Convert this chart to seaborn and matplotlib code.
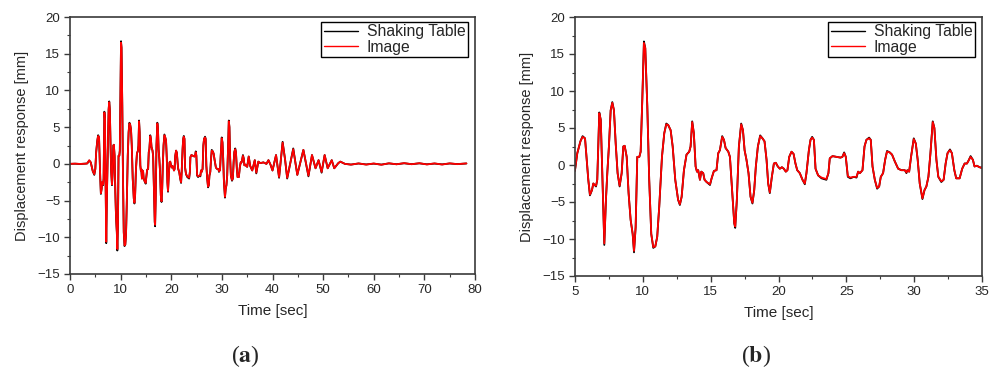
import numpy as np
import pandas as pd
import matplotlib
matplotlib.use("Agg")
import matplotlib.pyplot as plt
from matplotlib.ticker import MultipleLocator
import seaborn as sns

# ---------------- data ----------------
time_s = [0.0, 1.0, 2.0, 3.0, 3.4, 3.8, 4.1, 4.5, 4.8, 5.0,
          5.17, 5.4, 5.56, 5.74, 5.98, 6.1, 6.25, 6.35, 6.45, 6.55,
          6.64, 6.79, 6.9, 7.04, 7.16, 7.28, 7.38, 7.5, 7.63, 7.75,
          7.87, 8.0, 8.14, 8.29, 8.44, 8.56, 8.66, 8.81, 8.95, 9.1,
          9.25, 9.35, 9.47, 9.59, 9.74, 9.84, 9.96, 10.08, 10.18, 10.33,
          10.47, 10.62, 10.77, 10.92, 11.06, 11.21, 11.41, 11.58, 11.73, 11.87,
          12.05, 12.2, 12.39, 12.6, 12.73, 12.86, 13.03, 13.22, 13.42, 13.52,
          13.64, 13.76, 13.89, 13.99, 14.08, 14.21, 14.31, 14.45, 14.55, 14.7,
          14.95, 15.07, 15.24, 15.43, 15.56, 15.68, 15.85, 15.98, 16.1, 16.3,
          16.42, 16.56, 16.74, 16.81, 16.93, 17.08, 17.25, 17.38, 17.5, 17.64,
          17.79, 17.94, 18.08, 18.21, 18.33, 18.48, 18.65, 18.82, 18.97, 19.12,
          19.24, 19.36, 19.51, 19.66, 19.8, 19.95, 20.1, 20.25, 20.39, 20.54,
          20.66, 20.79, 20.96, 21.11, 21.25, 21.38, 21.57, 21.77, 21.94, 22.06,
          22.24, 22.36, 22.48, 22.61, 22.73, 22.92, 23.17, 23.53, 23.68, 23.78,
          23.98, 24.27, 24.57, 24.71, 24.84, 24.96, 25.11, 25.3, 25.55, 25.75,
          25.87, 26.0, 26.19, 26.34, 26.48, 26.68, 26.8, 26.93, 27.1, 27.27,
          27.42, 27.54, 27.71, 27.86, 28.0, 28.2, 28.37, 28.57, 28.82, 29.06,
          29.31, 29.43, 29.5, 29.63, 29.77, 29.97, 30.12, 30.26, 30.41, 30.61,
          30.76, 30.9, 31.05, 31.2, 31.37, 31.49, 31.64, 31.78, 32.0, 32.17,
          32.32, 32.46, 32.64, 32.78, 32.96, 33.1, 33.35, 33.54, 33.72, 33.89,
          34.01, 34.16, 34.33, 34.45, 34.62, 34.82, 35.0, 35.3, 35.6, 36.0,
          36.5, 36.8, 37.2, 37.6, 38.2, 38.8, 39.2, 39.6, 40.0, 40.7,
          41.3, 42.0, 42.5, 42.9, 44.1, 44.9, 46.1, 47.1, 47.8, 48.5,
          49.1, 49.7, 50.3, 50.9, 51.7, 52.2, 53.0, 53.4, 54.3, 55.5,
          57.0, 58.5, 60.0, 61.5, 63.0, 64.5, 66.0, 67.5, 69.0, 70.5,
          72.0, 73.5, 75.0, 76.5, 78.3]

table_mm = [0.0, 0.02, -0.02, 0.03, 0.05, 0.45, 0.2, -1.0, -1.5, -0.7,
            1.6, 3.2, 3.9, 3.6, -2.0, -4.1, -3.4, -2.5, -2.7, -2.9,
            -2.0, 7.1, 6.1, -2.9, -10.8, -4.7, -1.1, 2.5, 7.4, 8.5,
            7.4, 2.9, -1.1, -2.9, -1.1, 2.5, 2.6, 1.1, -3.8, -7.4,
            -9.3, -11.8, -8.4, 1.1, 1.1, 1.8, 8.8, 16.7, 15.8, 7.9,
            -2.0, -9.3, -11.2, -11.0, -9.7, -5.6, 1.1, 4.3, 5.6, 5.4,
            4.7, 2.5, -2.0, -4.7, -5.4, -4.3, -0.7, 1.4, 1.8, 2.5,
            5.9, 4.3, -0.2, -0.9, -0.7, -2.0, -0.9, -1.1, -2.0, -2.3,
            -2.7, -1.8, -0.8, -0.7, 1.6, 2.0, 3.9, 3.4, 2.3, 1.8,
            1.1, -2.9, -7.9, -8.5, -4.7, 2.5, 5.6, 4.7, 2.0, 0.7,
            -1.1, -4.3, -5.2, -3.4, -0.2, 2.5, 4.0, 3.6, 3.2, 0.7,
            -2.5, -3.8, -1.6, 0.2, 0.3, -0.2, -0.5, -0.3, -0.5, -0.9,
            -0.7, 1.1, 1.8, 1.5, 0.2, -0.7, -1.1, -2.0, -2.6, -1.1,
            2.0, 3.4, 3.8, 3.4, -0.5, -1.4, -1.8, -2.0, -1.1, 0.9,
            1.2, 1.1, 1.0, 1.1, 1.7, 1.1, -1.6, -1.8, -1.6, -1.7,
            -0.9, -1.1, -0.7, 2.5, 3.4, 3.7, 3.4, -0.2, -2.0, -3.2,
            -2.9, -1.6, -1.1, 0.7, 1.9, 1.7, 1.4, 0.5, -0.5, -0.7,
            -0.7, -1.1, -0.7, -0.9, 1.1, 3.6, 2.9, 0.7, -2.5, -4.6,
            -3.4, -2.9, -1.6, 1.6, 5.9, 5.0, 0.7, -1.6, -2.3, -2.0,
            0.2, 1.6, 2.1, 1.6, -0.7, -1.8, -1.8, -0.5, 0.2, 0.2,
            0.6, 1.2, 0.7, -0.2, -0.1, -0.3, -0.4, 1.0, -0.3, -0.9,
            0.5, -1.3, 0.3, 0.1, 0.2, 0.0, 0.5, -0.1, -0.9, 1.2,
            -1.9, 3.0, 0.5, -2.0, 2.1, -1.5, 1.9, -1.7, 1.2, -0.6,
            0.5, -1.2, 1.2, -0.6, 0.5, -0.6, 0.1, 0.3, 0.0, -0.1,
            0.05, -0.08, 0.03, -0.1, 0.06, -0.05, 0.08, -0.04, 0.07, -0.06,
            0.04, -0.07, 0.05, -0.03, 0.05]

image_mm = [0.0, 0.03, -0.01, 0.02, 0.06, 0.5, 0.2, -1.0, -1.4, -0.7,
            1.6, 3.2, 3.8, 3.6, -2.0, -4.0, -3.4, -2.5, -2.7, -2.8,
            -2.0, 7.0, 6.1, -2.9, -10.6, -4.7, -1.1, 2.5, 7.4, 8.4,
            7.4, 2.9, -1.1, -2.8, -1.1, 2.5, 2.6, 1.1, -3.8, -7.4,
            -9.3, -11.6, -8.4, 1.1, 1.1, 1.8, 8.8, 16.5, 15.8, 7.9,
            -2.0, -9.3, -11.1, -11.0, -9.7, -5.6, 1.1, 4.3, 5.5, 5.4,
            4.7, 2.5, -2.0, -4.7, -5.3, -4.3, -0.7, 1.4, 1.8, 2.5,
            5.8, 4.3, -0.2, -0.9, -0.7, -2.0, -0.9, -1.1, -2.0, -2.3,
            -2.6, -1.8, -0.8, -0.7, 1.6, 2.0, 3.8, 3.4, 2.3, 1.8,
            1.1, -2.9, -7.9, -8.3, -4.7, 2.5, 5.5, 4.7, 2.0, 0.7,
            -1.1, -4.3, -5.1, -3.4, -0.2, 2.5, 3.9, 3.6, 3.2, 0.7,
            -2.5, -3.7, -1.6, 0.2, 0.3, -0.2, -0.5, -0.3, -0.5, -0.9,
            -0.7, 1.1, 1.8, 1.5, 0.2, -0.7, -1.1, -2.0, -2.5, -1.1,
            2.0, 3.4, 3.7, 3.4, -0.5, -1.4, -1.7, -1.9, -1.1, 0.9,
            1.2, 1.1, 1.0, 1.1, 1.6, 1.1, -1.5, -1.7, -1.6, -1.6,
            -0.9, -1.1, -0.7, 2.5, 3.4, 3.6, 3.4, -0.2, -2.0, -3.1,
            -2.9, -1.6, -1.1, 0.7, 1.8, 1.7, 1.4, 0.5, -0.5, -0.7,
            -0.7, -1.0, -0.7, -0.9, 1.1, 3.5, 2.9, 0.7, -2.5, -4.5,
            -3.4, -2.9, -1.6, 1.6, 5.8, 5.0, 0.7, -1.6, -2.2, -2.0,
            0.2, 1.6, 2.0, 1.6, -0.7, -1.8, -1.8, -0.5, 0.2, 0.2,
            0.6, 1.1, 0.7, -0.2, -0.1, -0.3, -0.4, 1.0, -0.3, -0.9,
            0.5, -1.2, 0.3, 0.1, 0.2, 0.0, 0.5, -0.1, -0.9, 1.2,
            -1.8, 2.9, 0.5, -1.9, 2.0, -1.5, 1.9, -1.6, 1.2, -0.6,
            0.5, -1.1, 1.2, -0.6, 0.5, -0.6, 0.1, 0.3, 0.0, -0.1,
            0.06, -0.1, 0.05, -0.12, 0.08, -0.06, 0.1, -0.05, 0.09, -0.08,
            0.06, -0.09, 0.07, -0.04, 0.06]

series_names = ["Shaking Table", "Image"]
series_colors = ["#000000", "#ff0000"]
panel_labels = ["a", "b"]
x_limits = [(0, 80), (5, 35)]
x_major = [10, 5]

# ---------------- build long-form table ----------------
df = pd.DataFrame({
    "Time [sec]": time_s * 2,
    "Displacement response [mm]": table_mm + image_mm,
    "Source": [series_names[0]] * len(time_s) + [series_names[1]] * len(time_s),
})

sns.set_style("ticks")
plt.rcParams["font.family"] = ["Liberation Sans", "DejaVu Sans"]
plt.rcParams["mathtext.fontset"] = "stix"

fig = plt.figure(figsize=(9.89, 3.74), dpi=100)
W, H = 989.0, 374.0
ax_boxes = [(70, 17, 475, 274), (575, 17, 982, 276)]
legend_anchor = [(468, 22), (975, 22)]
panel_label_x = [245, 756]
spine_col = "#3a3a3a"

for i, (x0, y0, x1, y1) in enumerate(ax_boxes):
    ax = fig.add_axes([x0 / W, 1 - y1 / H, (x1 - x0) / W, (y1 - y0) / H])
    lo, hi = x_limits[i]
    sub = df[(df["Time [sec]"] >= lo - 0.5) & (df["Time [sec]"] <= hi + 0.5)]
    sns.lineplot(data=sub, x="Time [sec]", y="Displacement response [mm]",
                 hue="Source", palette=dict(zip(series_names, series_colors)),
                 hue_order=series_names, sort=False, estimator=None,
                 linewidth=1.3, ax=ax)
    ax.set_xlim(lo, hi)
    ax.set_ylim(-15, 20)
    ax.xaxis.set_major_locator(MultipleLocator(x_major[i]))
    ax.xaxis.set_minor_locator(MultipleLocator(x_major[i] / 2))
    ax.yaxis.set_major_locator(MultipleLocator(5))
    ax.yaxis.set_minor_locator(MultipleLocator(2.5))
    for sp in ax.spines.values():
        sp.set_visible(True)
        sp.set_color(spine_col)
        sp.set_linewidth(1.2)
    ax.tick_params(which="major", direction="out", length=4, width=1.0,
                   color=spine_col, labelsize=9.5, pad=3)
    ax.tick_params(which="minor", direction="out", length=2.5, width=0.8,
                   color=spine_col)
    ax.set_xlabel("Time [sec]", fontsize=11, labelpad=6)
    ax.set_ylabel("Displacement response [mm]", fontsize=10.5, labelpad=6)

    # legend
    lx, ly = legend_anchor[i]
    bx = (lx - x0) / (x1 - x0)
    by = (y1 - ly) / (y1 - y0)
    handles, labels = ax.get_legend_handles_labels()
    for h in handles:
        h.set_linewidth(1.0)
    leg = ax.legend(handles, labels, loc="upper right", bbox_to_anchor=(bx, by),
                    borderaxespad=0, frameon=True, fancybox=False, framealpha=1,
                    edgecolor="#000000", fontsize=11.3, handlelength=2.2,
                    handletextpad=0.55, labelspacing=0.02, borderpad=0.15)
    leg.get_frame().set_linewidth(1.0)

    fig.text(panel_label_x[i] / W, 1 - 356 / H,
             r"($\mathbf{" + panel_labels[i] + r"}$)",
             ha="center", va="center", fontsize=17,
             family=["Liberation Serif", "DejaVu Serif"])

fig.savefig("out.png", dpi=100)
